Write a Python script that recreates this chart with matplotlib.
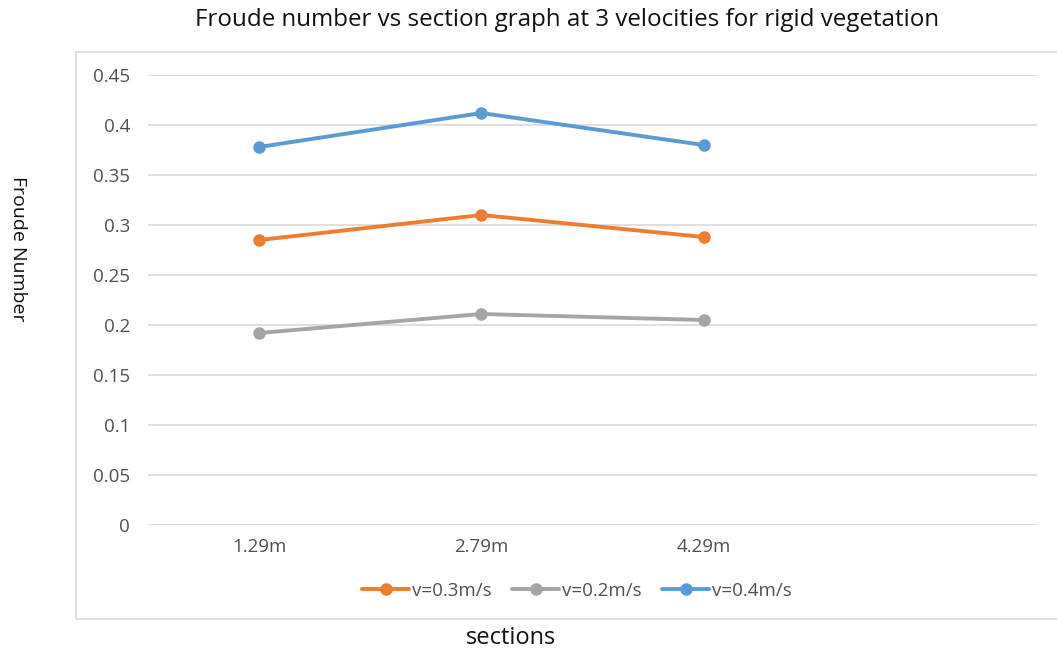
import matplotlib
matplotlib.use("Agg")
import matplotlib.pyplot as plt
from matplotlib.patches import Rectangle

sections = ["1.29m", "2.79m", "4.29m"]
v03 = [0.285, 0.310, 0.288]
v02 = [0.192, 0.211, 0.205]
v04 = [0.378, 0.412, 0.380]
series = [("v=0.3m/s", v03, "#ED7D31"),
          ("v=0.2m/s", v02, "#A5A5A5"),
          ("v=0.4m/s", v04, "#5B9BD5")]
yticks = [0, 0.05, 0.1, 0.15, 0.2, 0.25, 0.3, 0.35, 0.4, 0.45]
ytick_labels = ["0", "0.05", "0.1", "0.15", "0.2", "0.25", "0.3", "0.35", "0.4", "0.45"]

plt.rcParams["font.family"] = ["Open Sans", "DejaVu Sans"]
W, H = 1057, 652
fig = plt.figure(figsize=(W / 100, H / 100), dpi=100)

# chart frame
fig.patches.append(Rectangle((76 / W, 1 - 619 / H), (W + 10 - 76) / W, (619 - 52) / H,
                             transform=fig.transFigure, fill=False,
                             edgecolor="#D9D9D9", linewidth=1.2, zorder=0))

ax = fig.add_axes([148 / W, 1 - 525 / H, (1037 - 148) / W, 450 / H])
x = list(range(len(sections)))
for name, vals, col in series:
    ax.plot(x, vals, color=col, linewidth=2.8, marker="o", markersize=8,
            label=name, solid_capstyle="round")

ax.set_xlim(-0.5, 3.5)
ax.set_ylim(0, 0.45)
ax.set_yticks(yticks)
ax.set_yticklabels(ytick_labels)
ax.set_xticks(x)
ax.set_xticklabels(sections)
ax.grid(axis="y", color="#D9D9D9", linewidth=1.2)
ax.set_axisbelow(True)
for s in ax.spines.values():
    s.set_visible(False)
ax.tick_params(length=0, labelsize=13.5, labelcolor="#505050")
ax.tick_params(axis="y", pad=13)
ax.tick_params(axis="x", pad=9)

fig.text(567 / W, 1 - 20 / H, "Froude number vs section graph at 3 velocities for rigid vegetation",
         ha="center", va="center", fontsize=17.4, color="#111111")
fig.text(18 / W, 1 - 249 / H, "Froude Number", rotation=270, ha="center", va="center",
         fontsize=14, color="#111111")
fig.text(511 / W, 1 - 638 / H, "sections", ha="center", va="center", fontsize=17,
         color="#111111")

fig.legend(loc="center", bbox_to_anchor=(577 / W, 1 - 591 / H), ncol=3, frameon=False,
           fontsize=13.5, handlelength=2.5, handletextpad=0.15, columnspacing=1.1,
           labelcolor="#505050")

fig.savefig("out.png", dpi=100)
